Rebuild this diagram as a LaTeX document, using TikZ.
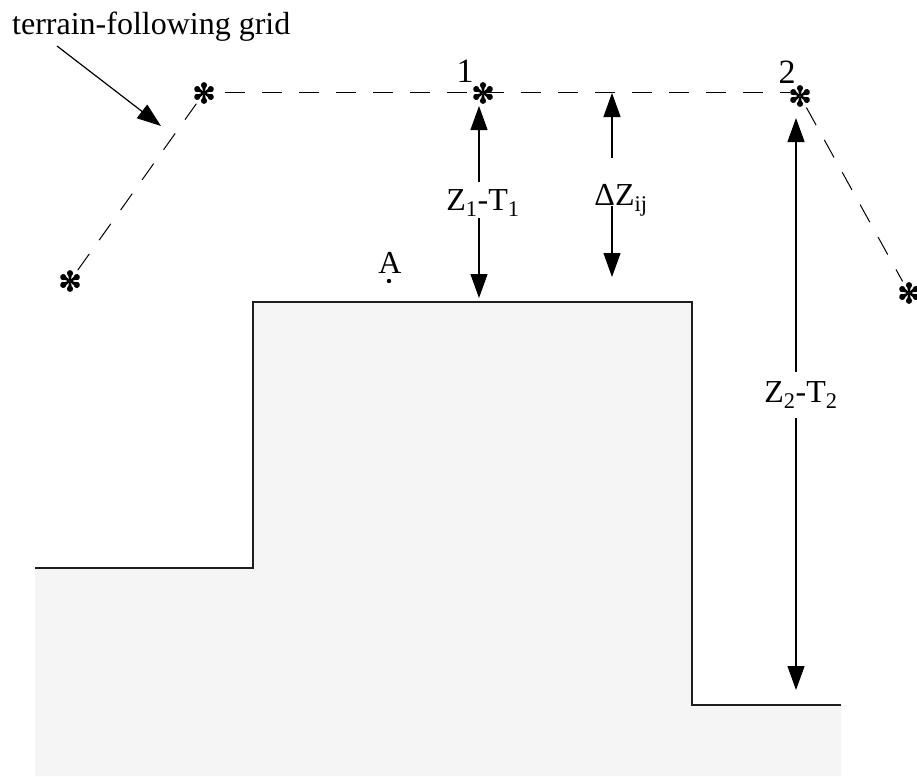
\documentclass[tikz,border=0pt]{standalone}
\usepackage{fontspec}
\setmainfont{Liberation Serif}
\usetikzlibrary{arrows.meta}
\definecolor{terrainfill}{RGB}{245,245,245}
\definecolor{edgegrey}{RGB}{30,30,30}

\begin{document}
\begin{tikzpicture}[
  x=1pt, y=-1pt,
  font=\fontsize{32}{38}\selectfont,
  tfstar/.style={circle, inner sep=0pt, minimum size=26pt},
  tflabel/.style={inner sep=1pt, anchor=base},
  tfdash/.style={dash pattern=on 20pt off 17pt, line width=1pt},
  tfedge/.style={-{Triangle[length=24pt, width=17pt]}, line width=1.2pt},
  tfground/.style={draw=edgegrey, line width=1.6pt}
]
\useasboundingbox (0,0) rectangle (917,776);

% Terrain
\fill[terrainfill] (35,568) -- (253,568) -- (253,302) -- (692,302) -- (692,705)
  -- (841,705) -- (841,776) -- (35,776) -- cycle;
\draw[tfground] (35,568) -- (253,568) -- (253,302) -- (692,302) -- (692,705) -- (841,705);

% Grid points
\node[tfstar] (p0) at (70,281) {};
\node[tfstar] (p1) at (204,93) {};
\node[tfstar] (p2) at (483,93) {};
\node[tfstar] (p3) at (800,96) {};
\node[tfstar] (p4) at (909,293) {};

% Terrain-following grid
\draw[tfdash] (p0) -- (p1);
\draw[tfdash] (225,92) -- (790,92);
\draw[tfdash] (p3) -- (p4);

% asterisks
\foreach \p in {p0,p1,p2,p3,p4}
  \foreach \a in {30,90,...,330}
    \fill[shift={(\p.center)}, rotate=\a] (0.5,-0.8) -- (6,-1.8) -- (6,1.8) -- (0.5,0.8) -- cycle
      (7.8,0) circle (3.1);

\node[tflabel] (n1) at (465,82) {\fontsize{34}{40}\selectfont 1};
\node[tflabel] (n2) at (787,83) {\fontsize{34}{40}\selectfont 2};

\node[tflabel, anchor=base west] (grid) at (11,35) {terrain-following grid};
\coordinate (gridfoot) at (57,46);
\coordinate (gridtip) at (161,126);
\draw[tfedge] (gridfoot) -- (gridtip);

% Point A
\node[tflabel] (A) at (390,273) {A};
\fill (389,281) circle (2.2pt);

% Z1-T1
\node[tflabel] (zt1) at (483,210) {Z\textsubscript{1}-T\textsubscript{1}};
\coordinate (zt1up) at (479,106);
\coordinate (zt1dn) at (479,298);
\draw[tfedge] (479,182) -- (zt1up);
\draw[tfedge] (479,218) -- (zt1dn);

% Delta Z
\node[tflabel] (dz) at (621,205) {ΔZ\textsubscript{ij}};
\coordinate (dzup) at (612,93);
\coordinate (dzdn) at (612,277);
\draw[tfedge] (612,158) -- (dzup);
\draw[tfedge] (612,206) -- (dzdn);

% Z2-T2
\node[tflabel] (zt2) at (801,402) {Z\textsubscript{2}-T\textsubscript{2}};
\coordinate (zt2up) at (796,118);
\coordinate (zt2dn) at (796,690);
\draw[tfedge] (796,372) -- (zt2up);
\draw[tfedge] (796,418) -- (zt2dn);
\end{tikzpicture}
\end{document}
